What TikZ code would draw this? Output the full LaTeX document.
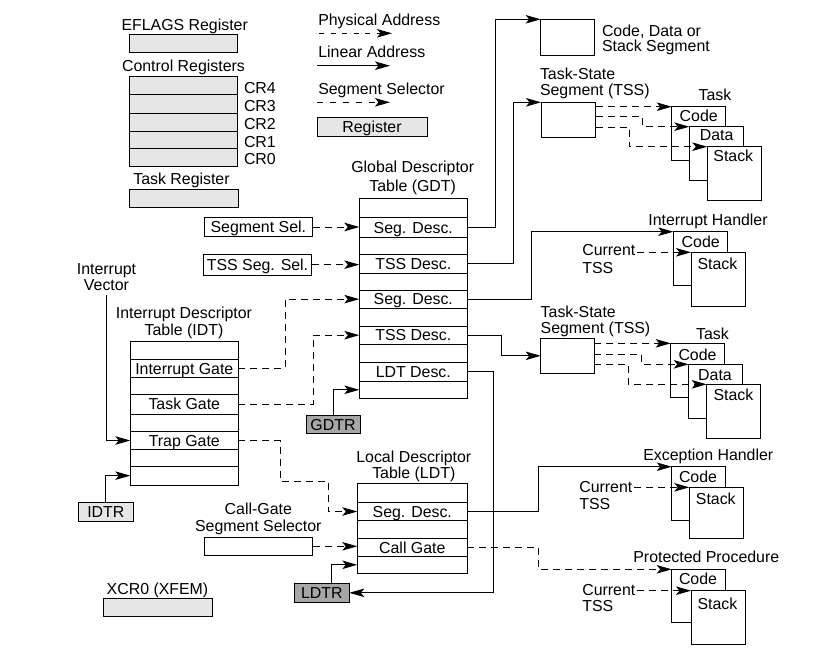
\documentclass[tikz,border=0pt]{standalone}
\usepackage{fontspec}
\setmainfont{Liberation Sans}
\usetikzlibrary{arrows.meta,calc}
\definecolor{lgray}{HTML}{E6E6E6}
\definecolor{dgray}{HTML}{A6A6A6}
\tikzset{
  basefont/.style={inner sep=0pt, outer sep=0pt, font=\fontsize{15.9}{17}\selectfont},
  txt/.style={basefont, text height=11.4pt, text depth=0pt},
  mtxt/.style={basefont, font=\fontsize{15.9}{#1}\selectfont, align=center, anchor=north},
  mtxtl/.style={basefont, font=\fontsize{15.9}{#1}\selectfont, align=left, anchor=north west},
  cellbox/.style={txt, draw, line width=1pt, fill=white},
  lreg/.style={cellbox, fill=lgray},
  dreg/.style={cellbox, fill=dgray},
  lin/.style={line width=1pt, -{Stealth[length=15pt,width=8.5pt,inset=3.5pt]}},
  sel/.style={lin, dash pattern=on 7pt off 5pt},
}
\newcommand\mkbox[7]{\node[#1,minimum width={#5-#3},minimum height={#6-#4}] (#2) at ({(#3+#5)/2},{(#4+#6)/2}) {#7};}
\begin{document}
\begin{tikzpicture}[x=1pt,y=-1pt]
\useasboundingbox[fill=white] (0,0) rectangle (838,654);

% ---------- registers (top left)
\node[txt] (eflagst) at (184.7,24.5) {EFLAGS Register};
\mkbox{lreg}{eflags}{129.3}{34}{237.3}{52}{}
\node[txt] (crt) at (183.5,65.5) {Control Registers};
\mkbox{lreg}{cr4}{129.3}{76.3}{237.3}{94.3}{}
\mkbox{lreg}{cr3}{129.3}{94.3}{237.3}{113.3}{}
\mkbox{lreg}{cr2}{129.3}{113.3}{237.3}{131.3}{}
\mkbox{lreg}{cr1}{129.3}{131.3}{237.3}{148.3}{}
\mkbox{lreg}{cr0}{129.3}{148.3}{237.3}{166}{}
\node[txt,anchor=west] (cr4t) at (244,87.5) {CR4};
\node[txt,anchor=west] (cr3t) at (244,105.8) {CR3};
\node[txt,anchor=west] (cr2t) at (244,124.2) {CR2};
\node[txt,anchor=west] (cr1t) at (244,141.7) {CR1};
\node[txt,anchor=west] (cr0t) at (244,159.2) {CR0};
\node[txt] (taskregt) at (181.5,178.3) {Task Register};
\mkbox{lreg}{taskreg}{129.3}{189.3}{238}{207}{}

% ---------- legend
\node[txt,anchor=west] (lphys) at (318.3,19.5) {Physical Address};
\coordinate (pa1) at (319,33.3); \coordinate (pa2) at (392,33.3);
\draw[lin, dash pattern=on 5pt off 6.5pt] (pa1) -- (pa2);
\node[txt,anchor=west] (llin) at (318.3,51.5) {Linear Address};
\coordinate (la1) at (317,65.7); \coordinate (la2) at (390,65.7);
\draw[lin] (la1) -- (la2);
\node[txt,anchor=west] (lsel) at (318.3,88.5) {Segment Selector};
\coordinate (ss1) at (317,102.3); \coordinate (ss2) at (390,102.3);
\draw[lin, dash pattern=on 6pt off 7pt] (ss1) -- (ss2);
\mkbox{lreg}{regleg}{317}{117}{427}{136}{Register}

% ---------- GDT
\node[mtxt=18.4] (gdtt) at (412.7,161.1) {Global Descriptor\\Table (GDT)};
\mkbox{cellbox}{g1}{359.3}{198.3}{467.3}{217.7}{}
\mkbox{cellbox}{g2}{359.3}{217.7}{467.3}{237.7}{Seg. Desc.}
\mkbox{cellbox}{g3}{359.3}{237.7}{467.3}{254}{}
\mkbox{cellbox}{g4}{359.3}{254}{467.3}{273.7}{TSS Desc.}
\mkbox{cellbox}{g5}{359.3}{273.7}{467.3}{290}{}
\mkbox{cellbox}{g6}{359.3}{290}{467.3}{308.3}{Seg. Desc.}
\mkbox{cellbox}{g7}{359.3}{308.3}{467.3}{326}{}
\mkbox{cellbox}{g8}{359.3}{326}{467.3}{344.3}{TSS Desc.}
\mkbox{cellbox}{g9}{359.3}{344.3}{467.3}{362.3}{}
\mkbox{cellbox}{g10}{359.3}{362.3}{467.3}{381.3}{LDT Desc.}
\mkbox{cellbox}{g11}{359.3}{381.3}{467.3}{398.3}{}
\mkbox{dreg}{gdtr}{306}{415.7}{360}{433.3}{GDTR}

% ---------- selectors
\mkbox{cellbox}{segsel}{204}{217.3}{312.7}{236.7}{Segment Sel.}
\mkbox{cellbox}{tsssel}{203.3}{254.3}{311.7}{275}{TSS Seg. Sel.}

% ---------- IDT
\node[mtxt=16] (ivec) at (106.5,263.1) {Interrupt\\Vector};
\node[mtxt=17] (idtt) at (184,306.5) {Interrupt Descriptor\\Table (IDT)};
\mkbox{cellbox}{i1}{130.3}{341.7}{238.3}{359.3}{}
\mkbox{cellbox}{i2}{130.3}{359.3}{238.3}{377.3}{Interrupt Gate}
\mkbox{cellbox}{i3}{130.3}{377.3}{238.3}{394}{}
\mkbox{cellbox}{i4}{130.3}{394}{238.3}{414}{Task Gate}
\mkbox{cellbox}{i5}{130.3}{414}{238.3}{431.7}{}
\mkbox{cellbox}{i6}{130.3}{431.7}{238.3}{449.3}{Trap Gate}
\mkbox{cellbox}{i7}{130.3}{449.3}{238.3}{466}{}
\mkbox{cellbox}{i8}{130.3}{466}{238.3}{485.3}{}
\mkbox{lreg}{idtr}{78.3}{502.7}{133.3}{521.7}{IDTR}

% ---------- LDT
\node[mtxt=15.7] (ldtt) at (413.8,451.1) {Local Descriptor\\Table (LDT)};
\mkbox{cellbox}{l1}{357.3}{483.3}{467.3}{502.3}{}
\mkbox{cellbox}{l2}{357.3}{502.3}{467.3}{520.7}{Seg. Desc.}
\mkbox{cellbox}{l3}{357.3}{520.7}{467.3}{538.3}{}
\mkbox{cellbox}{l4}{357.3}{538.3}{467.3}{556.3}{Call Gate}
\mkbox{cellbox}{l5}{357.3}{556.3}{467.3}{573.3}{}
\mkbox{dreg}{ldtr}{294.3}{583.3}{349.3}{602.3}{LDTR}

\node[mtxt=17] (cgt) at (258.3,503.1) {Call-Gate\\Segment Selector};
\mkbox{cellbox}{cgsel}{204}{537.3}{312.7}{555.3}{}

\node[txt] (xcrt) at (157.5,588.3) {XCR0 (XFEM)};
\mkbox{lreg}{xcr0}{103.3}{598.3}{212.3}{616.7}{}

% ---------- right column
\mkbox{cellbox}{cds}{540.7}{19.3}{594}{55}{}
\node[mtxtl=15.2] (cdst) at (602,24.6) {Code, Data or\\Stack Segment};

\node[mtxtl=16.8] (tss1t) at (540,67.6) {Task-State\\Segment (TSS)};
\mkbox{cellbox}{tss1}{541}{102.3}{595.7}{137.3}{}
\node[txt] (task1t) at (715,95.2) {Task};
\mkbox{cellbox}{code1}{671.7}{106.7}{725.7}{160}{}
\mkbox{cellbox}{data1}{689.3}{126.7}{743.3}{180}{}
\mkbox{cellbox}{stack1}{707.3}{146.7}{761.7}{200}{}
\node[txt] (code1t) at (698.7,115.5) {Code};
\node[txt] (data1t) at (716.7,135.2) {Data};
\node[txt] (stack1t) at (733.3,156.2) {Stack};

\node[txt] (iht) at (708,219.7) {Interrupt Handler};
\mkbox{cellbox}{ihcode}{673.3}{231.7}{727.3}{285}{}
\mkbox{cellbox}{ihstack}{691}{252.3}{745.7}{306.7}{}
\node[txt] (ihcodet) at (700.7,241.7) {Code};
\node[txt] (ihstackt) at (717.5,263.3) {Stack};
\node[mtxtl=17.5] (cur1) at (582.3,244.8) {Current\\TSS};

\node[mtxtl=15.8] (tss2t) at (540.7,306.3) {Task-State\\Segment (TSS)};
\mkbox{cellbox}{tss2}{540.7}{338.3}{594.3}{373.3}{}
\node[txt] (task2t) at (712.5,333.5) {Task};
\mkbox{cellbox}{code2}{670.7}{343.3}{724.3}{397.3}{}
\mkbox{cellbox}{data2}{688.7}{364.3}{742.7}{418}{}
\mkbox{cellbox}{stack2}{706.7}{384.3}{760.7}{438}{}
\node[txt] (code2t) at (697.5,354.7) {Code};
\node[txt] (data2t) at (715,374.7) {Data};
\node[txt] (stack2t) at (733.5,395.2) {Stack};

\node[txt] (eht) at (708.3,454.7) {Exception Handler};
\mkbox{cellbox}{ehcode}{671.7}{466.7}{725}{520}{}
\mkbox{cellbox}{ehstack}{689.3}{487.3}{743.3}{538.3}{}
\node[txt] (ehcodet) at (698,476.8) {Code};
\node[txt] (ehstackt) at (715.8,498.5) {Stack};
\node[mtxtl=16.7] (cur2) at (579.3,481.8) {Current\\TSS};

\node[txt] (ppt) at (706.3,556.8) {Protected Procedure};
\mkbox{cellbox}{ppcode}{671.7}{569.3}{725}{622.7}{}
\mkbox{cellbox}{ppstack}{691}{590.7}{745}{644}{}
\node[txt] (ppcodet) at (698,578.3) {Code};
\node[txt] (ppstackt) at (717.5,603.5) {Stack};
\node[mtxtl=16] (cur3) at (582.3,584.1) {Current\\TSS};

% ---------- connectors
\draw[sel] (segsel.east) -- (segsel.east -| g2.west);
\draw[sel] (tsssel.east) -- (tsssel.east -| g4.west);
\draw[sel] (i2.east) -- ++(47,0) |- (g6.west);
\draw[sel] (i4.east) -- ++(75,0) |- (g8.west);
\coordinate (tb1) at (280,481);
\coordinate (tb2) at (328.3,481);
\draw[sel] (i6.east) -| (tb1) -- (tb2) |- (l2.west);
\draw[lin] ([yshift=-4.5pt]ivec.south) |- (i6.west);
\draw[lin] (idtr.north) |- (i8.west);
\draw[lin] (gdtr.north) |- (g11.west);
\draw[lin] ([xshift=10pt]ldtr.north) |- (l5.west);
\draw[sel] (cgsel.east) -- (cgsel.east -| l4.west);

\draw[lin] (g2.east) -- ++(27.7,0) |- (cds.north west);
\draw[lin] (g4.east) -- ++(46,0) |- (tss1.north west);
\draw[lin] (g6.east) -- ++(64,0) |- (ihcode.north west);
\draw[lin] (g8.east) -- ++(33.7,0) |- (tss2.west);
\draw[lin] (g10.east) -- ++(26,0) |- (ldtr.east);
\draw[lin] (l2.east) -- ++(71,0) |- (ehcode.north west);
\draw[sel] (l4.east) -- ++(71,0) |- (ppcode.north west);

\draw[sel] (tss1.east |- code1.north west) -- (code1.north west);
\draw[sel] ([yshift=-14.4pt]tss1.north east) -- ++(47,0) |- (data1.north west);
\draw[sel] ([yshift=-25pt]tss1.north east) -- ++(33.6,0) |- (stack1.north west);
\draw[sel] (tss2.east |- code2.north west) -- (code2.north west);
\draw[sel] ([yshift=-15.7pt]tss2.north east) -- ++(47.4,0) |- (data2.north west);
\draw[sel] ([yshift=-26pt]tss2.north east) -- ++(34,0) |- (stack2.north west);

\draw[sel] ($(cur1.north east |- ihstack.north west)+(1.5,0)$) -- (ihstack.north west);
\draw[sel] ($(cur2.north east |- ehstack.north west)+(1.5,0)$) -- (ehstack.north west);
\draw[sel] ($(cur3.north east |- ppstack.north west)+(1.5,0)$) -- (ppstack.north west);
\end{tikzpicture}
\end{document}
